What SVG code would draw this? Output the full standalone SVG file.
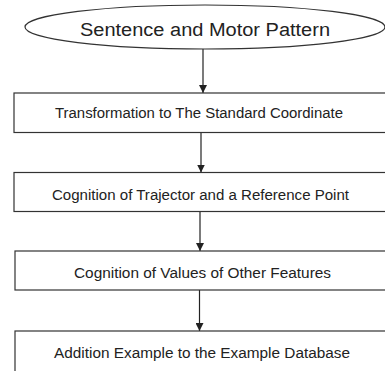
<svg xmlns="http://www.w3.org/2000/svg" width="385" height="371" viewBox="0 0 385 371">
<defs>
<style>
.box{fill:#fff;stroke:#333;stroke-width:1.2}
.lbl{font-family:"Liberation Sans",Arial,sans-serif;font-size:14px;fill:#222;text-anchor:middle}
.big{font-size:18px}
.conn{stroke:#222;stroke-width:1.2;fill:none;marker-end:url(#ah)}
</style>
<marker id="ah" viewBox="0 0 8 8" refX="8" refY="4" markerWidth="8" markerHeight="8" markerUnits="userSpaceOnUse" orient="auto">
<path d="M0,0 L8,4 L0,8 Z" fill="#222"/>
</marker>
</defs>
<g id="connectors">
<line class="conn" x1="203" y1="49" x2="203" y2="93"/>
<line class="conn" x1="201" y1="133" x2="201" y2="172.5"/>
<line class="conn" x1="200" y1="212" x2="200" y2="251"/>
<line class="conn" x1="199.5" y1="290" x2="199.5" y2="331"/>
</g>
<g id="start">
<ellipse class="box" cx="205" cy="27" rx="180" ry="22"/>
<text class="lbl big" x="205" y="35.5" textLength="250" lengthAdjust="spacingAndGlyphs">Sentence and Motor Pattern</text>
</g>
<g id="step1">
<rect class="box" x="14" y="93" width="376" height="39.5"/>
<text class="lbl" x="199" y="118" textLength="288" lengthAdjust="spacingAndGlyphs">Transformation to The Standard Coordinate</text>
</g>
<g id="step2">
<rect class="box" x="14" y="172.5" width="376" height="39"/>
<text class="lbl" x="200.5" y="200" textLength="297" lengthAdjust="spacingAndGlyphs">Cognition of Trajector and a Reference Point</text>
</g>
<g id="step3">
<rect class="box" x="15" y="251" width="375" height="39"/>
<text class="lbl" x="202.5" y="278" textLength="257" lengthAdjust="spacingAndGlyphs">Cognition of Values of Other Features</text>
</g>
<g id="step4">
<rect class="box" x="15" y="331" width="375" height="45"/>
<text class="lbl" x="202" y="358" textLength="296" lengthAdjust="spacingAndGlyphs">Addition Example to the Example Database</text>
</g>
</svg>
